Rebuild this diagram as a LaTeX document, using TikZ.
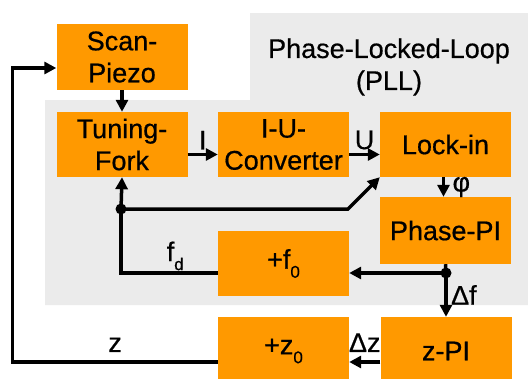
\documentclass[tikz,border=0pt]{standalone}
\usepackage{fontspec}
\setmainfont{Liberation Sans}[FakeBold=0.6]
\usetikzlibrary{arrows.meta}
\definecolor{pllorange}{HTML}{FF9900}
\definecolor{pllgray}{HTML}{EBEBEB}
\newcommand{\lowsub}[1]{\raisebox{-9pt}{\fontsize{17}{17}\selectfont #1}}

\begin{document}
\begin{tikzpicture}[x=1pt, y=-1pt,
    block/.style={fill=pllorange, minimum width=131pt, minimum height=65pt, inner sep=0pt, align=center, font=\fontsize{27}{32}\selectfont},
    lbl/.style={font=\fontsize{27}{32}\selectfont},
    wire/.style={line width=3.5pt},
    arr/.style={wire, -{Triangle[length=12pt, width=12pt]}},
    junction/.style={circle, fill=black, inner sep=0pt, minimum size=11pt}]
    \clip (0,0) rectangle (528,378);
    % PLL area
    \fill[pllgray] (45,100) -- (250,100) -- (250,13) -- (528,13) -- (528,305) -- (45,305) -- cycle;
    \node[lbl, align=center] (title) at (389,67) {Phase-Locked-Loop\\(PLL)};

    % Blocks
    \node[block, minimum height=66pt] (scan) at (122,57) {Scan-\\Piezo};
    \node[block] (fork) at (122,144.5) {Tuning-\\Fork};
    \node[block] (conv) at (283.5,144.5) {I-U-\\Converter};
    \node[block] (lockin) at (445.5,144.5) {Lock-in};
    \node[block, minimum height=67pt] (phasepi) at (445.5,230.5) {Phase-PI};
    \node[block] (fzero) at (283.5,263.5) {+f\lowsub{0}};
    \node[block, minimum height=68pt] (zzero) at (283.5,351) {+z\lowsub{0}};
    \node[block, minimum height=68pt] (zpi) at (446,351) {z-PI};

    % Branch points
    \node[junction] (forkdot) at (121,209) {};
    \node[junction] (pidot) at (446,273) {};
    \coordinate (kink) at (348,209);

    % Edges with labels
    \draw[arr] (scan) -- (fork);
    \draw[arr] ([yshift=-10pt]fork.east) -- ([yshift=-10pt]conv.west) node[lbl, midway, above] {I};
    \draw[arr] ([yshift=-10pt]conv.east) -- ([yshift=-10pt]lockin.west) node[lbl, midway, above] {U};
    \draw[arr] ([xshift=-2pt]lockin.south) -- ([xshift=-2pt]phasepi.north) node[lbl, midway, right, xshift=4pt] {φ};
    \draw[arr] (forkdot.center) -- (fork.south);
    \draw[arr] (forkdot.center) -- (kink) -- (lockin.south west);
    \draw[wire] ([yshift=-9.5pt]fzero.west) -| (forkdot.center) node[lbl, pos=0.22, above, inner sep=1pt] {f\lowsub{d}};
    \draw[wire] (phasepi.south) -- (pidot.center);
    \draw[arr] (pidot.center) -- ([yshift=-9.5pt]fzero.east);
    \draw[arr] (pidot.center) -- (zpi.north) node[lbl, midway, right] {Δf};
    \draw[arr] ([yshift=-11pt]zpi.west) -- ([yshift=-11pt]zzero.east) node[lbl, midway, above, yshift=5pt] {Δz};
    \draw[arr] ([yshift=-11pt]zzero.west) -| ([xshift=-44pt, yshift=-11pt]scan.west) node[lbl, pos=0.25, above, yshift=5pt] {z} -- ([yshift=-11pt]scan.west);
\end{tikzpicture}
\end{document}
